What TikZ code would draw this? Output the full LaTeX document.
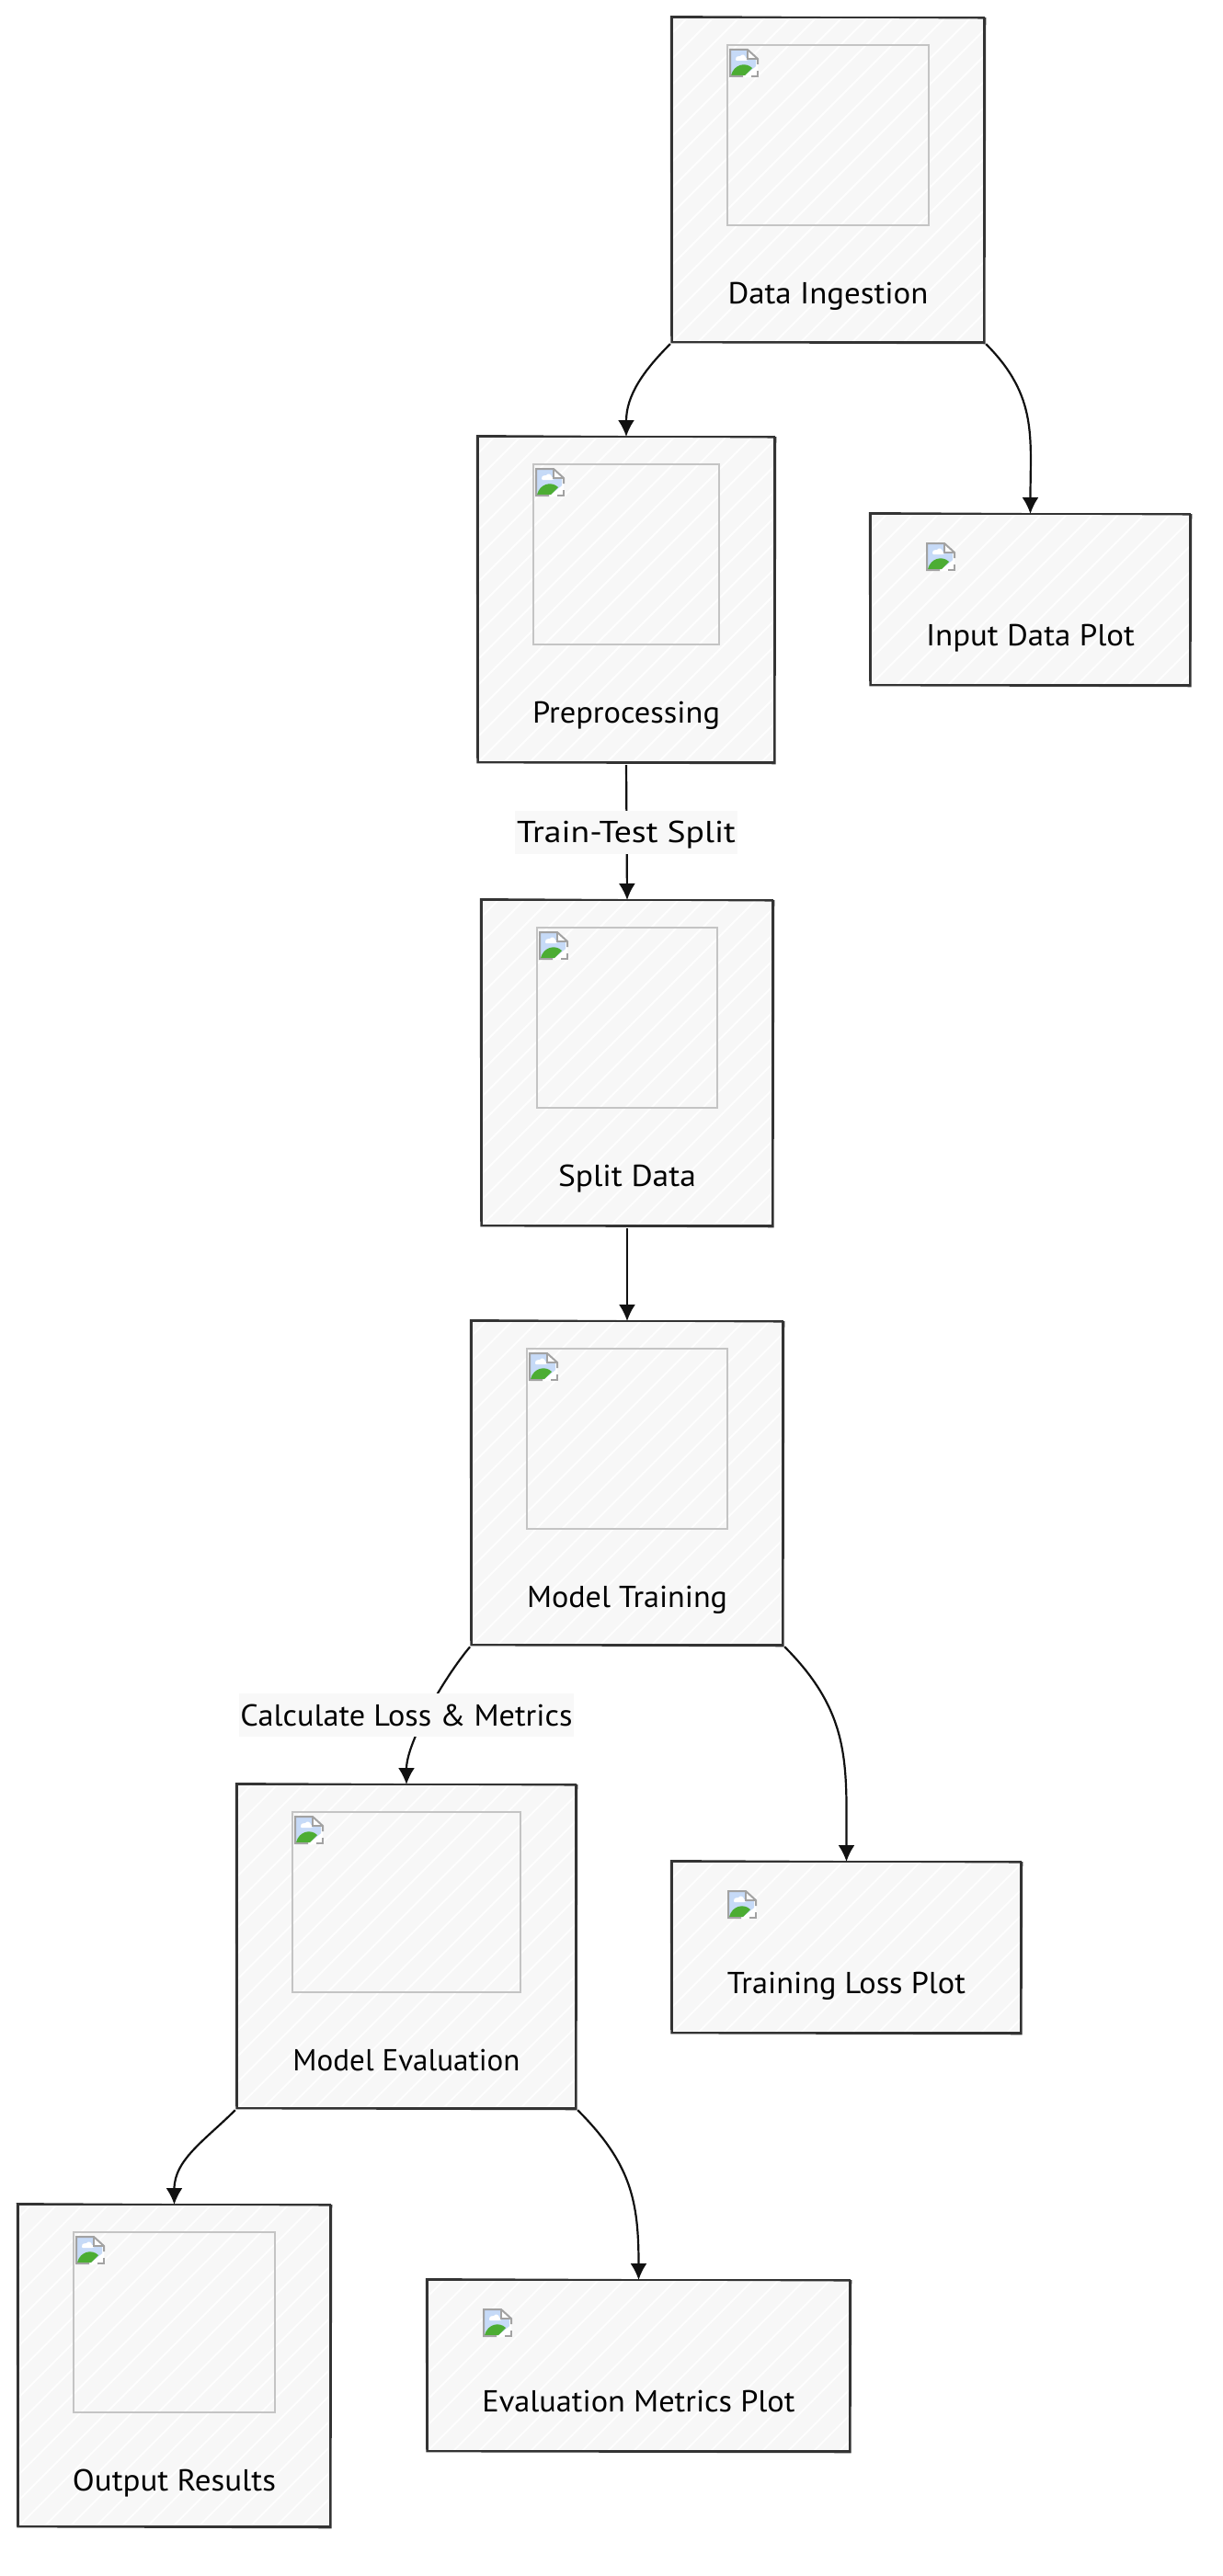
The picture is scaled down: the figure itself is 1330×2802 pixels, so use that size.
\documentclass[tikz,border=0pt]{standalone}
\usepackage{fontspec}
\usepackage{graphicx}
\setmainfont{PT Sans}
\usetikzlibrary{arrows.meta}
\definecolor{boxfill}{HTML}{F7F7F7}
\definecolor{boxedge}{HTML}{333333}
\definecolor{frameedge}{HTML}{C4C4C4}
\definecolor{labelfill}{HTML}{F8F8F8}
\definecolor{inkline}{HTML}{111111}
\definecolor{iconsky}{HTML}{C6DAF7}
\definecolor{iconhill}{HTML}{4CAD33}
\definecolor{iconedge}{HTML}{A2A2A2}
\tikzset{
  x=1pt,y=-1pt,
  hachured/.style={fill=boxfill,inner sep=0pt,outer sep=0pt,path picture={
    \foreach \d in {-420,-392,...,480}
      \draw[white!85!boxfill,line width=1.8pt] ([shift={(\d,0)}]path picture bounding box.south west) -- ++(520,-520);
  }},
  sketchbox/.style={hachured,draw=boxedge,line width=2.2pt},
  imgframe/.style={draw=frameedge,line width=1.6pt,inner sep=0pt,outer sep=0pt},
  caption/.style={font=\fontsize{33}{36}\selectfont,text=black,inner sep=0pt,anchor=base},
  edgelabel/.style={font=\fontsize{33}{36}\selectfont,text=black,fill=labelfill,inner sep=0pt,text height=35pt,text depth=12pt},
  flow/.style={draw=inkline,line width=2.2pt,-{Latex[length=18pt,width=18pt]},shorten <=3pt},
}
\newcommand{\fitw}[2]{\resizebox{#1pt}{\height}{#2}}
\newcommand{\brokenicon}[2]{%
  \begin{scope}[shift={(#1,#2)}]
    \fill[white] (0,0) -- (20,0) -- (31,11) -- (31,31) -- (0,31) -- cycle;
    \fill[iconsky] (2,2) -- (19,2) -- (19,11) -- (29,11) -- (29,20) -- (17,29) -- (2,29) -- cycle;
    \fill[white] (7,12) .. controls (7,8) and (10,8) .. (12,8) .. controls (14,5) and (18,7) .. (18,10) .. controls (21,10) and (21,13) .. (18,13) -- (8,13) -- cycle;
    \fill[iconhill] (2,29) .. controls (5,17) and (18,14) .. (25,21) -- (17,29) -- cycle;
    \draw[iconedge,line width=2pt] (31,17) -- (31,11) -- (20,1) -- (1,1) -- (1,30) -- (15,30);
    \draw[iconedge,line width=1.2pt] (20,1) -- (20,11) -- (31,11);
    \draw[iconedge,line width=2pt] (24,30) -- (31,30) -- (31,24);
    \draw[white,line width=2.4pt] (17,31) -- (30,20);
  \end{scope}%
}
\newcommand{\roughedge}[1]{%
  \draw[boxedge,line width=1.5pt,line cap=round]
    ([shift={(-1.5,-1.2)}]#1.north west) -- ([shift={(1.5,0.8)}]#1.north east)
    -- ([shift={(0.8,1.5)}]#1.south east) -- ([shift={(-1,0.6)}]#1.south west) -- cycle;%
}
\newcommand{\imgbox}[7]{%
  \node[sketchbox,minimum width={(#4-#2)*1pt},minimum height={(#5-#3)*1pt}] (#1) at ({(#2+#4)/2},{(#3+#5)/2}) {};
  \roughedge{#1}
  \node[imgframe,minimum width={(#4-#2-120)*1pt},minimum height=196pt] (#1f) at ({(#2+#4)/2},{#3+30+98}) {};
  \brokenicon{#2+62}{#3+34}
  \node[caption] (#1t) at ({(#2+#4)/2},{#3+311.5}) {\fitw{#7}{#6}};%
}
\newcommand{\plotbox}[7]{%
  \node[sketchbox,minimum width={(#4-#2)*1pt},minimum height={(#5-#3)*1pt}] (#1) at ({(#2+#4)/2},{(#3+#5)/2}) {};
  \roughedge{#1}
  \brokenicon{#2+60}{#3+31}
  \node[caption] (#1t) at ({(#2+#4)/2},{#3+143.5}) {\fitw{#7}{#6}};%
}
\begin{document}
\begin{tikzpicture}
\useasboundingbox (0,0) rectangle (1330,2802);
\imgbox{di}{731}{19}{1070}{372}{Data Ingestion}{218}
\imgbox{prep}{520}{475}{842}{829}{Preprocessing}{204}
\plotbox{inp}{947}{559}{1294}{745}{Input Data Plot}{227}
\imgbox{split}{524}{979}{840}{1333}{Split Data}{150}
\imgbox{train}{513}{1437}{851}{1789}{Model Training}{218}
\imgbox{evl}{258}{1941}{626}{2293}{Model Evaluation}{247}
\plotbox{tloss}{731}{2025}{1110}{2211}{Training Loss Plot}{259}
\imgbox{outr}{20}{2398}{359}{2748}{Output Results}{221}
\plotbox{emet}{465}{2480}{924}{2666}{Evaluation Metrics Plot}{340}

\draw[flow] (di.south west) to[out=-135,in=90] (prep.north);
\draw[flow] (di.south east) to[out=-45,in=90,looseness=1.1] (inp.north);
\draw[flow] (prep.south) -- (split.north);
\draw[flow] (split.south) -- (train.north);
\draw[flow] (train.south west) to[out=-130,in=90,looseness=0.7] (evl.north);
\draw[flow] (train.south east) to[out=-45,in=90,looseness=1.1] (tloss.north);
\draw[flow] (evl.south west) to[out=-135,in=90] (outr.north);
\draw[flow] (evl.south east) to[out=-45,in=90,looseness=1.1] (emet.north);
\node[edgelabel,minimum width=242pt] (lsplit) at (681,905) {\fitw{238}{Train-Test Split}};
\node[edgelabel,minimum width=364pt] (lloss) at (442,1865.5) {\fitw{361}{Calculate Loss \& Metrics}};
\end{tikzpicture}
\end{document}
